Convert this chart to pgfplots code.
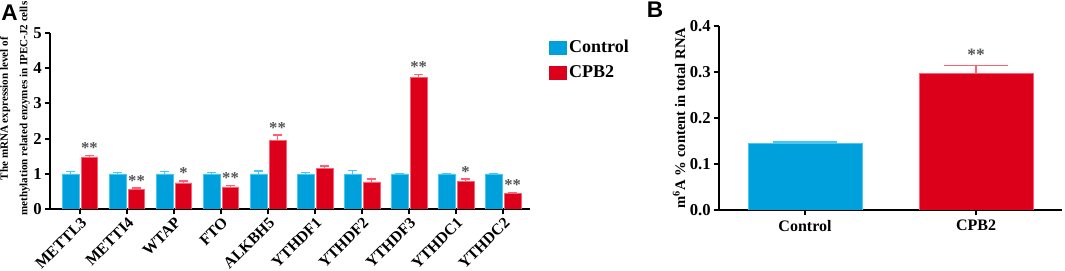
\documentclass[border=0pt]{standalone}
\usepackage{fontspec}
\setmainfont{Liberation Serif}
\newfontfamily\arialf{Liberation Sans}
\usepackage{pgfplots}
\usepackage{pgfplotstable}
\pgfplotsset{compat=1.18}
\definecolor{cblue}{RGB}{0,160,220}
\definecolor{cred}{RGB}{220,0,27}
\definecolor{eblue}{RGB}{70,200,240}
\definecolor{ered}{RGB}{255,95,115}
\definecolor{sgray}{RGB}{85,85,85}
\pgfplotstableread{
x c ce t te
0 1.00 0.06 1.48 0.04
1 1.00 0.04 0.56 0.04
2 1.00 0.07 0.74 0.06
3 1.00 0.04 0.63 0.04
4 1.00 0.08 1.96 0.14
5 1.00 0.04 1.15 0.07
6 1.00 0.09 0.77 0.08
7 1.00 0.01 3.73 0.10
8 1.00 0.01 0.78 0.07
9 1.00 0.01 0.44 0.03
}\dataA
\pgfplotstableread{
x y lab
0.2 1.52 {**}
1.2 0.60 {**}
2.2 0.80 {*}
3.2 0.67 {**}
4.2 2.10 {**}
7.2 3.83 {**}
8.2 0.85 {*}
9.2 0.47 {**}
}\starsA
\begin{document}
\begin{tikzpicture}
\useasboundingbox (0,0) rectangle (798.75pt,203.25pt);
\pgfplotsset{
  panel/.style={
    scale only axis,
    axis lines=left,
    axis line style={line width=1.4pt,-},
    tick style={line width=1.4pt,black},
    tick align=outside,
    major tick length=4pt,
    /pgf/number format/assume math mode=true,
    y tick label style={font=\bfseries\fontsize{12.5}{13}\selectfont,inner sep=2pt},
    x tick label style={font=\bfseries\fontsize{11.8}{12}\selectfont},
  },
  errblue/.style={error bars/y dir=plus, error bars/y explicit,
    error bars/error bar style={eblue,line width=1pt},
    error bars/error mark options={rotate=90,mark size=#1,line width=1pt,eblue}},
  errblue/.default=3.3pt,
  errred/.style={error bars/y dir=plus, error bars/y explicit,
    error bars/error bar style={ered,line width=1pt},
    error bars/error mark options={rotate=90,mark size=#1,line width=1pt,ered}},
  errred/.default=3.3pt,
}
% Panel A
\begin{axis}[panel,
  at={(37.5pt,46.5pt)}, anchor=south west,
  width=360pt, height=132pt,
  ybar, bar width=0.35,
  xmin=-0.64, xmax=9.57, ymin=0, ymax=5,
  ytick={0,1,2,3,4,5},
  xtick={0,...,9},
  xticklabels={METTL3,METTI4,WTAP,FTO,ALKBH5,YTHDF1,YTHDF2,YTHDF3,YTHDC1,YTHDC2},
  x tick label style={rotate=45,anchor=north east,inner sep=1pt},
  ylabel={The mRNA expression level of\\methylation related enzymes in IPEC-J2 cells},
  ylabel style={at={(rel axis cs:-0.073,0.57)},anchor=center,align=center,
    font=\bfseries\fontsize{8.3}{14.5}\selectfont},
  legend style={at={(1.03,0.99)},anchor=north west,draw=none,fill=none,
    font=\bfseries\fontsize{13.5}{15}\selectfont,row sep=4pt},
  legend cell align=left,
]
\addplot[bar shift=-0.2,fill=cblue,draw=eblue,line width=0.4pt,errblue,
  legend image code/.code={\fill[cblue] (0pt,-5pt) rectangle (13pt,5pt);}]
  table[x=x,y=c,y error=ce]{\dataA};
\addlegendentry{Control}
\addplot[bar shift=0.2,fill=cred,draw=ered,line width=0.4pt,errred,
  legend image code/.code={\fill[cred] (0pt,-5pt) rectangle (13pt,5pt);}]
  table[x=x,y=t,y error=te]{\dataA};
\addlegendentry{CPB2}
\addplot[draw=none,mark=none,forget plot,bar shift=0,
  nodes near coords,point meta=explicit symbolic,
  every node near coord/.style={anchor=south,inner sep=1.2pt,text=sgray,
    font=\bfseries\fontsize{12.5}{12}\selectfont}]
  table[x=x,y=y,meta=lab]{\starsA};
\end{axis}
% Panel B
\begin{axis}[panel,
  at={(539.25pt,45.75pt)}, anchor=south west,
  width=257.25pt, height=138pt,
  ybar, bar width=0.667,
  xmin=-0.503, xmax=1.503, ymin=0, ymax=0.4,
  ytick={0,0.1,0.2,0.3,0.4},
  yticklabel style={/pgf/number format/.cd,fixed,fixed zerofill,precision=1},
  xtick={0,1},
  xticklabels={Control,CPB2},
  x tick label style={font=\bfseries\fontsize{12}{13}\selectfont},
  ylabel={m\textsuperscript{6}A \% content in total RNA},
  ylabel style={font=\bfseries\fontsize{11}{12}\selectfont,yshift=-2pt},
]
\addplot[bar shift=0,fill=cblue,draw=eblue,line width=0.4pt,errblue=24pt]
  coordinates {(0,0.145) +- (0,0.003)};
\addplot[bar shift=0,fill=cred,draw=ered,line width=0.4pt,errred=24pt]
  coordinates {(1,0.297) +- (0,0.017)};
\addplot[draw=none,mark=none,bar shift=0,
  nodes near coords,point meta=explicit symbolic,
  every node near coord/.style={anchor=south,inner sep=2pt,text=sgray,
    font=\bfseries\fontsize{13}{13}\selectfont}]
  coordinates {(1,0.318) [**]};
\end{axis}
\node[font=\arialf\bfseries\fontsize{17}{17}\selectfont] at (7.1pt,193.5pt) {A};
\node[font=\arialf\bfseries\fontsize{17}{17}\selectfont] at (491.25pt,195.75pt) {B};
\end{tikzpicture}
\end{document}
